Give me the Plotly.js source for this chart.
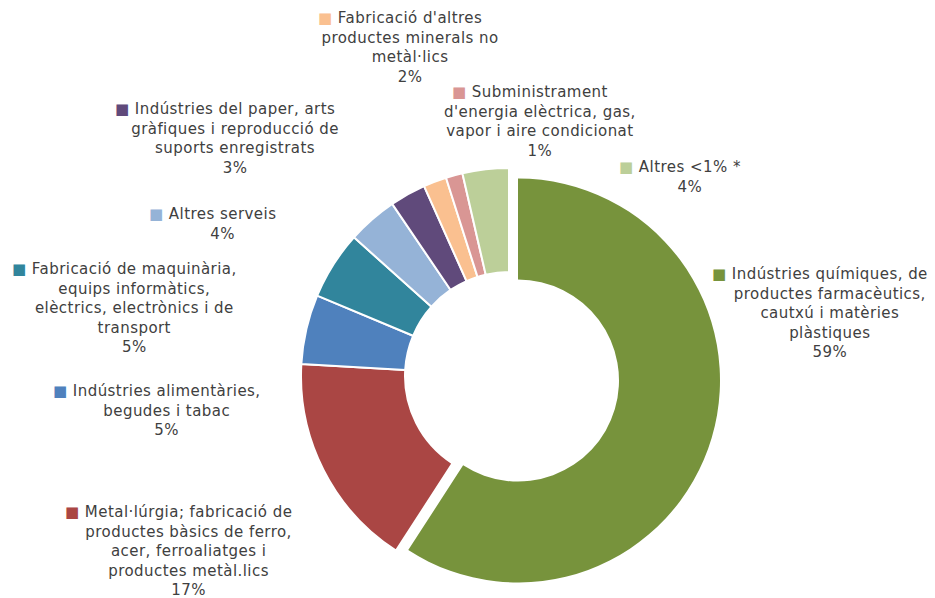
<!DOCTYPE html>
<html>
<head>
<meta charset="utf-8">
<script src="https://cdn.plot.ly/plotly-3.0.1.min.js"></script>
<style>
  html, body { margin: 0; padding: 0; background: #ffffff; }
  #chart { width: 935px; height: 598px; }
  .annotation-text { letter-spacing: 0.45px; }
</style>
</head>
<body>
<div id="chart"></div>
<script>
// ---- data ----
const categories = [
  "Indústries químiques, de<br>productes farmacèutics,<br>cautxú i matèries<br>plàstiques",
  "Metal·lúrgia; fabricació de<br>productes bàsics de ferro,<br>acer, ferroaliatges i<br>productes metàl.lics",
  "Indústries alimentàries,<br>begudes i tabac",
  "Fabricació de maquinària,<br>equips informàtics,<br>elèctrics, electrònics i de<br>transport",
  "Altres serveis",
  "Indústries del paper, arts<br>gràfiques i reproducció de<br>suports enregistrats",
  "Fabricació d'altres<br>productes minerals no<br>metàl·lics",
  "Subministrament<br>d'energia elèctrica, gas,<br>vapor i aire condicionat",
  "Altres <1% *"
];
const values = [59.2, 16.8, 5.4, 5.3, 3.9, 2.8, 1.8, 1.3, 3.6];
const colors = ["#77933C", "#AA4644", "#4F81BD", "#31859C", "#95B3D7",
                "#604A7B", "#FAC090", "#D99694", "#BCCF99"];

// label block centres (pixels in the 935x598 page)
const labelPos = [
  [830, 313], [188, 550.5], [166, 410], [134, 308], [222, 224],
  [235, 139], [410, 47], [540, 122], [690, 177]
];

const W = 935, H = 598;
const total = values.reduce((a, b) => a + b, 0);
const TRANSP = "rgba(0,0,0,0)";

// geometry of the two rings (the first category is exploded)
function domainFor(cx, cy, r) {
  return {
    x: [(cx - r) / W, (cx + r) / W],
    y: [(H - cy - r) / H, (H - cy + r) / H]
  };
}

const restColors = colors.map((c, i) => i === 0 ? TRANSP : c);
const restLines = colors.map((c, i) => i === 0 ? TRANSP : "#ffffff");
const mainColors = colors.map((c, i) => i === 0 ? c : TRANSP);
const mainLines = colors.map(() => TRANSP);

const base = {
  type: "pie",
  values: values,
  labels: categories.map((c, i) => "c" + i),
  sort: false,
  direction: "clockwise",
  rotation: 0,
  hole: 0.5,
  textinfo: "none",
  hoverinfo: "skip",
  showlegend: false
};

const traceRest = Object.assign({}, base, {
  domain: domainFor(509, 376, 208),
  marker: { colors: restColors, line: { color: restLines, width: 2 } }
});
const traceMain = Object.assign({}, base, {
  domain: domainFor(518, 380.5, 202),
  marker: { colors: mainColors, line: { color: mainLines, width: 0 } }
});

// legend key hangs to the left of the first line; balance it with an
// invisible key on the right so that the text lines stay centred
function labelText(i) {
  const lines = categories[i].split("<br>");
  lines[0] = '<span style="color:' + colors[i] + '">■</span> ' + lines[0] +
             '<span style="color:' + TRANSP + '"> ■</span>';
  lines.push(Math.round(values[i] / total * 100) + "%");
  return lines.join("<br>");
}

const annotations = categories.map((c, i) => ({
  xref: "paper", yref: "paper",
  x: labelPos[i][0] / W, y: 1 - labelPos[i][1] / H,
  xanchor: "center", yanchor: "middle",
  align: "center",
  showarrow: false,
  text: labelText(i),
  font: { family: "DejaVu Sans, Verdana, sans-serif", size: 15, color: "#404040" }
}));

const layout = {
  width: W, height: H,
  margin: { l: 0, r: 0, t: 0, b: 0 },
  paper_bgcolor: "#ffffff",
  annotations: annotations
};

Plotly.newPlot("chart", [traceRest, traceMain], layout, { displayModeBar: false, staticPlot: true });
</script>
</body>
</html>
